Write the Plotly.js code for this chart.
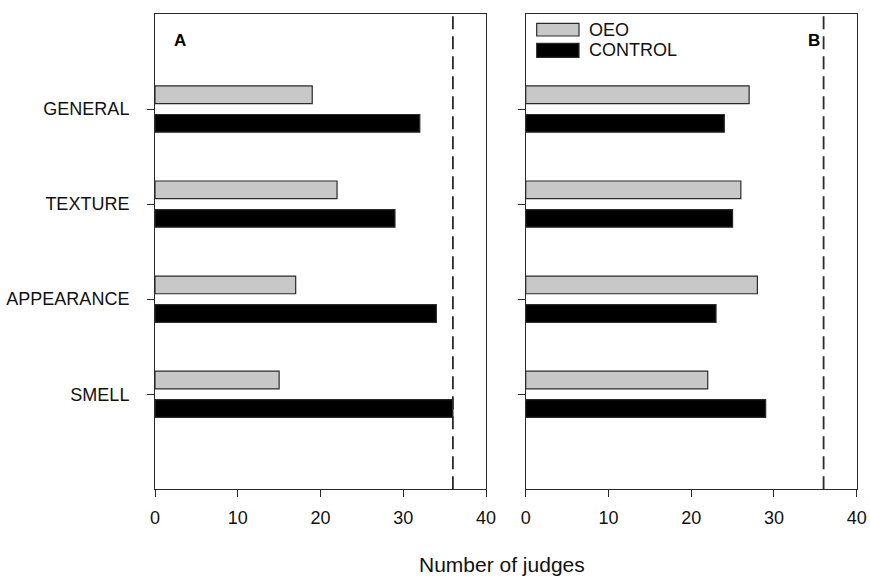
<!DOCTYPE html>
<html>
<head>
<meta charset="utf-8">
<script src="https://cdn.plot.ly/plotly-3.0.1.min.js"></script>
<style>html,body{margin:0;padding:0;background:#fff;}#chart{width:870px;height:580px;}</style>
</head>
<body>
<div id="chart"></div>
<script>
// ---- data ----
const categories = ['SMELL', 'APPEARANCE', 'TEXTURE', 'GENERAL'];
const oeoA = [15, 17, 22, 19];
const controlA = [36, 34, 29, 32];
const oeoB = [22, 28, 26, 27];
const controlB = [29, 23, 25, 24];
const seriesNames = ['OEO', 'CONTROL'];
const panelLabels = ['A', 'B'];
const xTicks = [0, 10, 20, 30, 40];
const thresholdValue = 36;
const xTitle = 'Number of judges';

// ---- styles ----
const W = 870, H = 580;
const px = x => x / W;
const py = y => 1 - y / H;
const FONT = 'Liberation Sans, Arial, sans-serif';
const oeoColor = '#c8c8c8';
const ctrlColor = '#000000';
const lineCol = '#2a2a2a';
const TXT = 18;

function barTrace(vals, name, color, xa, ya) {
  return {
    type: 'bar', orientation: 'h', x: vals, y: categories, name: name,
    xaxis: xa, yaxis: ya, showlegend: false,
    marker: {color: color, line: {color: lineCol, width: 1.2}},
    hoverinfo: 'x+y+name'
  };
}

const traces = [
  barTrace(controlA, seriesNames[1], ctrlColor, 'x', 'y'),
  barTrace(oeoA, seriesNames[0], oeoColor, 'x', 'y'),
  barTrace(controlB, seriesNames[1], ctrlColor, 'x2', 'y2'),
  barTrace(oeoB, seriesNames[0], oeoColor, 'x2', 'y2')
];

const yBottom = 489.3, yTop = 14;
const xAxisCommon = {
  range: [0, 40], tickvals: xTicks, ticktext: xTicks.map(String),
  showgrid: false, zeroline: false, showline: true, mirror: true,
  linecolor: lineCol, linewidth: 1, ticks: 'outside', ticklen: 7, tickwidth: 1,
  tickcolor: lineCol, tickfont: {family: FONT, size: TXT, color: '#111'},
  ticklabelstandoff: 5, fixedrange: true
};
const yAxisCommon = {
  type: 'category', categoryorder: 'array', categoryarray: categories,
  range: [-1, 4], domain: [py(yBottom), py(yTop)],
  showgrid: false, zeroline: false, showline: true, mirror: true,
  linecolor: lineCol, linewidth: 1, ticks: 'outside', ticklen: 7, tickwidth: 1,
  tickcolor: lineCol, tickfont: {family: FONT, size: TXT, color: '#111'},
  fixedrange: true
};

const layout = {
  width: W, height: H,
  margin: {l: 0, r: 0, t: 0, b: 0},
  paper_bgcolor: '#fff', plot_bgcolor: '#fff',
  barmode: 'group', bargap: 0.4, bargroupgap: 0.38,
  showlegend: false,
  font: {family: FONT, color: '#111'},
  xaxis: Object.assign({}, xAxisCommon, {domain: [px(155), px(486)], anchor: 'y'}),
  xaxis2: Object.assign({}, xAxisCommon, {domain: [px(525.7), px(856.7)], anchor: 'y2'}),
  yaxis: Object.assign({}, yAxisCommon, {anchor: 'x', ticklabelstandoff: 14}),
  yaxis2: Object.assign({}, yAxisCommon, {anchor: 'x2', showticklabels: false}),
  shapes: [
    {type: 'line', xref: 'x', yref: 'y domain', x0: thresholdValue, x1: thresholdValue, y0: 0, y1: 1,
     line: {color: lineCol, width: 1.8, dash: '13px,7px'}},
    {type: 'line', xref: 'x2', yref: 'y2 domain', x0: thresholdValue, x1: thresholdValue, y0: 0, y1: 1,
     line: {color: lineCol, width: 1.8, dash: '13px,7px'}},
    // legend swatches
    {type: 'rect', xref: 'paper', yref: 'paper', x0: px(536.7), x1: px(579), y0: py(36), y1: py(23.3),
     fillcolor: oeoColor, line: {color: lineCol, width: 1.2}},
    {type: 'rect', xref: 'paper', yref: 'paper', x0: px(536.7), x1: px(579), y0: py(57.3), y1: py(43.3),
     fillcolor: ctrlColor, line: {color: lineCol, width: 1.2}}
  ],
  annotations: [
    {xref: 'paper', yref: 'paper', x: px(179.5), y: py(41), text: '<b>' + panelLabels[0] + '</b>',
     showarrow: false, font: {family: FONT, size: 17, color: '#000'}, xanchor: 'center', yanchor: 'middle'},
    {xref: 'paper', yref: 'paper', x: px(813.5), y: py(41), text: '<b>' + panelLabels[1] + '</b>',
     showarrow: false, font: {family: FONT, size: 17, color: '#000'}, xanchor: 'center', yanchor: 'middle'},
    {xref: 'paper', yref: 'paper', x: px(587), y: py(29.7), text: seriesNames[0],
     showarrow: false, font: {family: FONT, size: TXT, color: '#111'}, xanchor: 'left', yanchor: 'middle'},
    {xref: 'paper', yref: 'paper', x: px(587), y: py(50.3), text: seriesNames[1],
     showarrow: false, font: {family: FONT, size: TXT, color: '#111'}, xanchor: 'left', yanchor: 'middle'},
    {xref: 'paper', yref: 'paper', x: px(502), y: py(564), text: xTitle,
     showarrow: false, font: {family: FONT, size: 21, color: '#111'}, xanchor: 'center', yanchor: 'middle'}
  ]
};

Plotly.newPlot('chart', traces, layout, {staticPlot: true, displayModeBar: false});
</script>
</body>
</html>
